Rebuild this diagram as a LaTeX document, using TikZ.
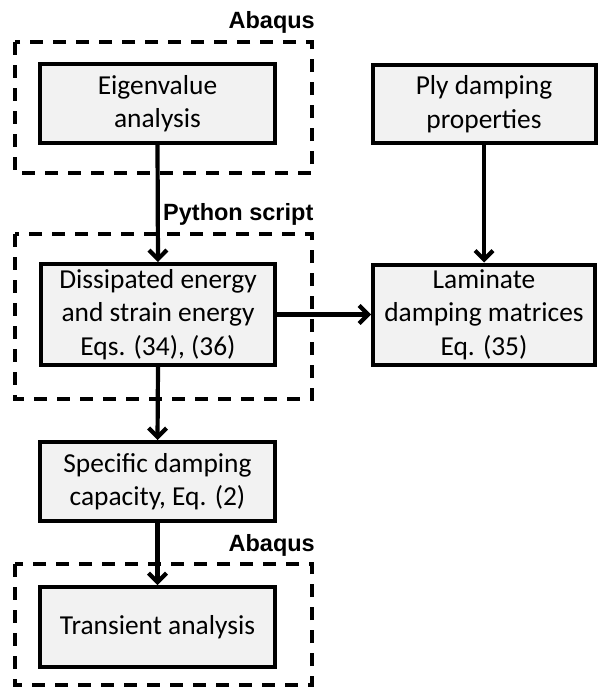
\documentclass[tikz,border=0pt]{standalone}
\usepackage{fontspec}
\setmainfont{Carlito}
\newfontfamily\lblfont{Liberation Sans}
\usetikzlibrary{arrows.meta}
\definecolor{boxfill}{RGB}{242,242,242}
\tikzset{
  box/.style={draw=black, line width=4pt, fill=boxfill, inner sep=0pt, align=center,
    font=\fontsize{27.4}{33.4}\selectfont},
  dashbox/.style={draw=black, line width=4.3pt, dash pattern=on 13pt off 10pt},
  lbl/.style={inner sep=0pt, font=\lblfont\bfseries\fontsize{23.5}{28}\selectfont},
  arr/.style={line width=4.2pt, -{Straight Barb[length=9pt,width=18pt,line width=4.2pt]}}
}
\begin{document}
\begin{tikzpicture}[x=1pt,y=-1pt]
\useasboundingbox (0,0) rectangle (597,688);
% dashed groups
\draw[dashbox] (15,42) rectangle (312,173);
\draw[dashbox] (15,234) rectangle (312,399);
\draw[dashbox] (15,564) rectangle (312,685);
% labels
\node[lbl, anchor=east] (ab1) at (315,22) {Abaqus};
\node[lbl, anchor=west] (py) at (163,214) {Python script};
\node[lbl, anchor=east] (ab2) at (315,545) {Abaqus};
% boxes
\node[box, minimum width=235pt, minimum height=79pt] (eig) at (157.5,103.5) {Eigenvalue\\analysis};
\node[box, minimum width=223pt, minimum height=78pt] (ply) at (484,104) {Ply damping\\properties};
\node[box, minimum width=234pt, minimum height=101pt] (dis) at (158,314.5) {Dissipated energy\\and strain energy\\Eqs. (34), (36)};
\node[box, minimum width=222pt, minimum height=100pt] (lam) at (484,314.5) {Laminate\\damping matrices\\Eq. (35)};
\node[box, minimum width=235pt, minimum height=79pt] (spec) at (157.5,481.5) {Specific damping\\capacity, Eq. (2)};
\node[box, minimum width=235pt, minimum height=80pt] (tra) at (157.5,627) {Transient analysis};
% arrows
\draw[arr] (eig.south) -- (dis.north);
\draw[arr] (ply.south) -- (lam.north);
\draw[arr] (dis.east) -- (lam.west);
\draw[arr] (dis.south) -- (spec.north);
\draw[arr] (spec.south) -- (tra.north);
\end{tikzpicture}
\end{document}
